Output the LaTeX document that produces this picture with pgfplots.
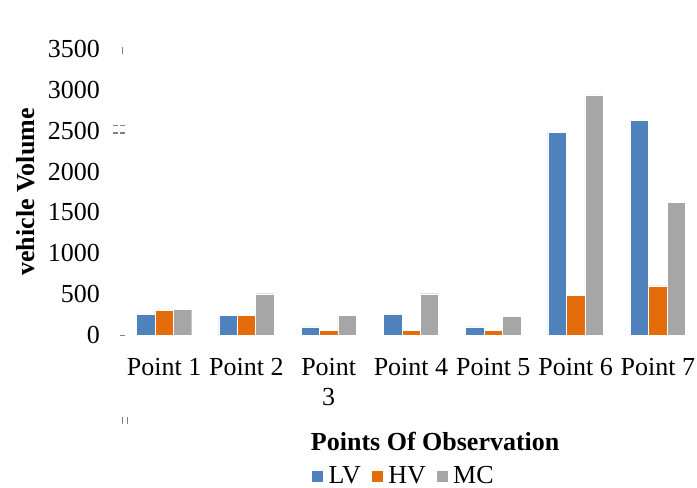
\documentclass[border=0pt]{standalone}
\usepackage{pgfplots}
\pgfplotsset{compat=1.18}
\usepackage{fontspec}
\setmainfont{Liberation Serif}

\definecolor{lvblue}{HTML}{4F81BD}
\definecolor{hvorange}{HTML}{E46C0A}
\definecolor{mcgray}{HTML}{A6A6A6}
\newcommand{\chartfont}{\fontsize{26bp}{30bp}\selectfont}

\begin{document}
\begin{tikzpicture}
\useasboundingbox (-123bp,-153bp) rectangle (574bp,335bp);
\begin{axis}[
    at={(0,0)}, anchor=south west,
    scale only axis,
    width=576bp, height=286bp,
    ybar=0pt,
    bar width=18.4bp,
    xmin=-0.5, xmax=6.5,
    ymin=0, ymax=3500,
    xtick=data,
    xticklabels={Point 1, Point 2, Point\\3, Point 4, Point 5, Point 6, Point 7},
    ytick={0,500,...,3500},
    axis line style={draw=none},
    major tick length=0pt,
    /pgf/number format/assume math mode=true,
    /pgf/number format/1000 sep={},
    xticklabel style={font=\chartfont, align=center, anchor=north, inner sep=0pt, yshift=-23bp},
    yticklabel style={font=\chartfont, anchor=east, inner sep=0pt, xshift=-23bp},
    xlabel={\textbf{Points Of Observation}},
    xlabel style={font=\chartfont, at={(axis description cs:0.542,-0.374)}, anchor=center},
    ylabel={\textbf{vehicle Volume}},
    ylabel style={font=\chartfont, at={(axis description cs:-0.169,0.5)}, anchor=center},
    legend columns=3,
    legend style={draw=none, font=\chartfont, at={(axis description cs:0.486,-0.493)}, anchor=center,
        /tikz/every odd column/.append style={column sep=4bp},
        /tikz/every even column/.append style={column sep=9bp},
        nodes={inner sep=1bp}},
    legend image code/.code={\fill[#1] (0bp,-6bp) rectangle (12bp,6bp);},
]
\addplot[fill=lvblue, draw=white, line width=0.4bp] coordinates {(0,250) (1,240) (2,100) (3,250) (4,100) (5,2480) (6,2630)};
\addplot[fill=hvorange, draw=white, line width=0.4bp] coordinates {(0,300) (1,240) (2,55) (3,55) (4,55) (5,485) (6,600)};
\addplot[fill=mcgray, draw=white, line width=0.4bp] coordinates {(0,310) (1,505) (2,240) (3,505) (4,230) (5,2940) (6,1620)};
\legend{LV, HV, MC}
\end{axis}
% small stray marks of the original picture
\draw[gray, line width=1bp] (-1bp,281bp) -- (-1bp,288bp);
\draw[gray, line width=1bp] (-10bp,209bp) -- (-5bp,209bp) (-3bp,209bp) -- (2bp,209bp);
\draw[gray, line width=1.4bp] (-10bp,202bp) -- (-5bp,202bp) (-3bp,202bp) -- (2bp,202bp);
\draw[gray, line width=1bp] (-3bp,0bp) -- (2bp,0bp);
\draw[gray, line width=1bp] (-1bp,-82bp) -- (-1bp,-89bp) (4bp,-82bp) -- (4bp,-89bp);
\end{tikzpicture}
\end{document}
